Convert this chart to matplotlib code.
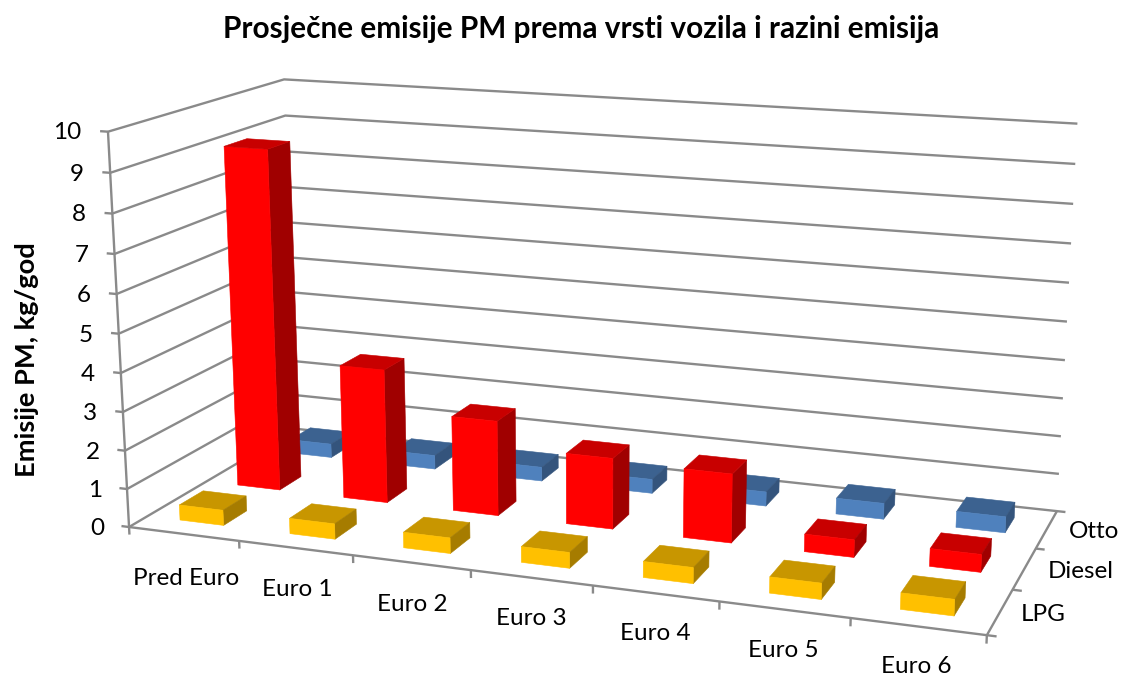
import numpy as np
import matplotlib
matplotlib.use("Agg")
import matplotlib.pyplot as plt
from mpl_toolkits.mplot3d import proj3d
from mpl_toolkits.mplot3d.art3d import Line3DCollection

# chart values
categories = ["Pred Euro", "Euro 1", "Euro 2", "Euro 3", "Euro 4", "Euro 5", "Euro 6"]
series_names = ["LPG", "Diesel", "Otto"]
lpg = [0.4, 0.4, 0.4, 0.4, 0.4, 0.4, 0.4]
diesel = [9.05, 3.55, 2.5, 1.85, 1.78, 0.45, 0.45]
otto = [0.38, 0.38, 0.38, 0.38, 0.38, 0.42, 0.42]
z_ticks = list(range(0, 11))

front_colors = ["#FFC000", "#FF0000", "#4F81BD"]
top_colors = ["#C89600", "#C80000", "#3C6290"]
side_colors = ["#A67C00", "#A00000", "#34547C"]
grid_color = "#8A8A8A"

# how far each axis label sits from the floor edge
category_drop = [1.18, 1.08, 1.08, 1.03, 1.0, 1.0, 0.95]
series_gap = [0.155, 0.18, 0.18]

plt.rcParams["font.family"] = "Lato"

# camera fitted to the corners of the chart box: (x, y, z) -> pixel
box = [(0, 0, 0), (0, 0, 10), (0, 3, 10), (7, 3, 10), (7, 3, 0), (7, 0, 0), (0, 3, 0),
       (1, 0, 0), (2, 0, 0), (3, 0, 0), (7, 1, 0), (7, 2, 0), (0, 0, 5), (0, 3, 9), (7, 3, 9)]
pix = [(129.5, 526.5), (108, 132), (284, 80), (1077, 124), (1056, 510.7), (986, 635), (296, 429),
       (239, 541.7), (353, 556.7), (470.3, 570), (1013, 590), (1037, 548), (119, 332), (285, 115), (1076, 164)]


def fit_camera(box, pix):
    rows = []
    rhs = []
    for (x, y, z), (u, v) in zip(box, pix):
        rows.append([x, y, z, 1, 0, 0, 0, 0, -u * x, -u * y, -u * z])
        rows.append([0, 0, 0, 0, x, y, z, 1, -v * x, -v * y, -v * z])
        rhs += [u, v]
    p = np.linalg.lstsq(np.array(rows), np.array(rhs), rcond=None)[0]
    w_row = [p[8], p[9], p[10], 1.0]
    depth_row = [p[8], p[9], p[10], 0.0]
    return np.array([p[:4], p[4:8], depth_row, w_row])


fig = plt.figure(figsize=(11.23, 6.77), dpi=100)
ax = fig.add_axes([0, 0, 1, 1], projection="3d", computed_zorder=False)
M = fit_camera(box, pix)
ax.get_proj = lambda: M
ax.apply_aspect = lambda position=None: None
ax.viewLim.intervalx = (0, 1123)
ax.viewLim.intervaly = (677, 0)
ax.set_axis_off()


def label(x, y, z, text, ha):
    u, v, _ = proj3d.proj_transform(x, y, z, M)
    fig.text(u / 1123, 1 - v / 677, text, ha=ha, va="center", fontsize=17.5, color="black")


nx = len(categories)
ny = len(series_names)
segs = []

# walls
for z in z_ticks:
    segs.append([(0, 0, z), (0, ny, z), (nx, ny, z)])
    segs.append([(-0.07, 0, z), (0, 0, z)])
    label(-0.235, 0, z - 0.07 - 0.006 * (10 - z), str(z), "right")
segs.append([(0, 0, 0), (0, 0, 10)])

# floor edges and ticks
segs.append([(0, 0, 0), (nx, 0, 0), (nx, ny, 0)])
for i in range(nx + 1):
    segs.append([(i, 0, 0), (i, 0, -0.2)])
for j in range(ny + 1):
    segs.append([(nx, j, 0), (nx + 0.07, j, 0)])
ax.add_collection3d(Line3DCollection(segs, colors=grid_color, linewidths=1.7, zorder=1), autolim=False)

for i, name in enumerate(categories):
    label(i + 0.5, 0, -category_drop[i], name, "center")
for j, name in enumerate(series_names):
    label(nx + series_gap[j], j + 0.5, 0, name, "left")

# bars, far ones first
values = [lpg, diesel, otto]
order = 2
for j in range(ny - 1, -1, -1):
    for i in range(nx - 1, -1, -1):
        # faces of bar3d: bottom, top, front, back, left, right
        clear = (0, 0, 0, 0)
        faces = [clear, top_colors[j], front_colors[j], clear, clear, side_colors[j]]
        ax.bar3d(i + 0.3, j + 0.3, 0, 0.4, 0.4, values[j][i], color=faces, shade=False,
                 edgecolor=faces, linewidth=0.4, zorder=order)
        order += 1

# the real axes stay hidden, so they need no ticks
ax.set_xticks([])
ax.set_yticks([])
ax.set_zticks([])

fig.text(581 / 1123, 1 - 29 / 677, "Prosječne emisije PM prema vrsti vozila i razini emisija",
         ha="center", va="center", fontsize=21.4, fontweight="bold")
fig.text(27 / 1123, 1 - 360 / 677, "Emisije PM, kg/god", ha="center", va="center",
         rotation=90, fontsize=19.6, fontweight="bold")

fig.savefig("out.png", dpi=100)
